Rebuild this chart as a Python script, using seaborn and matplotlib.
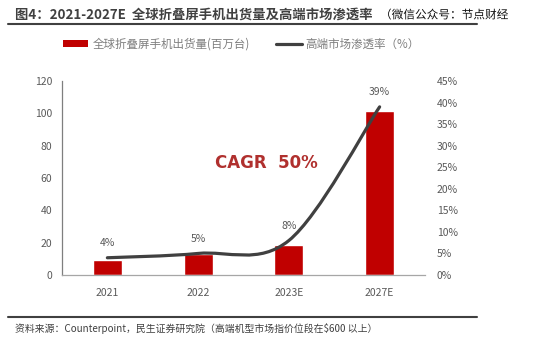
import numpy as np
import pandas as pd
import matplotlib
matplotlib.use("Agg")
import matplotlib.pyplot as plt
import seaborn as sns
from matplotlib.path import Path
from matplotlib.patches import PathPatch, Patch
from matplotlib.lines import Line2D
import matplotlib.patheffects as pe

# ---- data ----
years = ["2021", "2022", "2023E", "2027E"]
shipments = [9.3, 13.0, 18.7, 101.5]          # 百万台
penetration = [4, 5, 8, 39]                    # %
rate_labels = ["4%", "5%", "8%", "39%"]
left_ticks = [0, 20, 40, 60, 80, 100, 120]
right_ticks = [0, 5, 10, 15, 20, 25, 30, 35, 40, 45]

title = "图4：2021-2027E  全球折叠屏手机出货量及高端市场渗透率"
watermark = "（微信公众号：节点财经"
legend_bar = "全球折叠屏手机出货量(百万台)"
legend_line = "高端市场渗透率（%）"
source = "资料来源：Counterpoint，民生证券研究院（高端机型市场指价位段在\\$600 以上）"
cagr = "CAGR  50%"

sns.set_theme(style="white")
plt.rcParams["font.family"] = ["Noto Sans CJK SC", "DejaVu Sans"]

W, H = 537, 340
fig = plt.figure(figsize=(W / 100, H / 100), dpi=100)
ax = fig.add_axes([62 / W, 1 - 275 / H, (425 - 62) / W, (275 - 81) / H])

df = pd.DataFrame({"year": years, "ship": shipments})
sns.barplot(data=df, x="year", y="ship", ax=ax, color="#C00000",
            saturation=1, width=0.32)
ax.set_xlim(-0.5, 3.5)
ax.set_ylim(0, 120)
ax.set_yticks(left_ticks)
ax.set_xlabel("")
ax.set_ylabel("")
ax.tick_params(axis="y", length=0, pad=7, labelsize=7.5, labelcolor="#595959")
ax.tick_params(axis="x", length=0, pad=9, labelsize=7.5, labelcolor="#595959")
for s in ["top", "right"]:
    ax.spines[s].set_visible(False)
ax.spines["left"].set_color("#7f7f7f")
ax.spines["left"].set_linewidth(0.9)
ax.spines["bottom"].set_color("#a6a6a6")
ax.spines["bottom"].set_linewidth(0.9)

ax2 = ax.twinx()
ax2.set_ylim(0, 45)
ax2.set_yticks(right_ticks)
ax2.set_yticklabels([f"{t}%" for t in right_ticks])
ax2.tick_params(axis="y", length=0, pad=8.5, labelsize=7.5, labelcolor="#595959")
for s in ["top", "right", "left", "bottom"]:
    ax2.spines[s].set_visible(False)

# smoothed line (Excel-style Catmull-Rom bezier)
xs = np.arange(len(penetration), dtype=float)
ys = np.array(penetration, dtype=float)
pts = np.column_stack([xs, ys])
verts = [tuple(pts[0])]
codes = [Path.MOVETO]
n = len(pts)
for i in range(n - 1):
    p0 = pts[i - 1] if i > 0 else pts[i]
    p1 = pts[i]
    p2 = pts[i + 1]
    p3 = pts[i + 2] if i + 2 < n else pts[i + 1]
    c1 = p1 + (p2 - p0) / 6
    c2 = p2 - (p3 - p1) / 6
    verts += [tuple(c1), tuple(c2), tuple(p2)]
    codes += [Path.CURVE4] * 3
ax2.add_patch(PathPatch(Path(verts, codes), facecolor="none",
                        edgecolor="#404040", lw=2.3, capstyle="round"))

for x, y, lab in zip(xs, ys, rate_labels):
    ax2.annotate(lab, (x, y), xytext=(0, 10.5), textcoords="offset points",
                 ha="center", va="center", fontsize=7.5, color="#595959")

ax.text(1.75, 69, cagr, ha="center", va="center", fontsize=12,
        fontweight="bold", color="#B0302E", family="DejaVu Sans")

# legend
handles = [Patch(facecolor="#C00000", edgecolor="none"),
           Line2D([0], [0], color="#404040", lw=2.3)]
leg = fig.legend(handles, [legend_bar, legend_line], loc="center left",
                 bbox_to_anchor=(63 / W, 1 - 44 / H), ncol=2, frameon=False,
                 fontsize=8.3, borderpad=0, borderaxespad=0, handlelength=2.2,
                 handleheight=0.6, handletextpad=0.35, columnspacing=2.3)
for t in leg.get_texts():
    t.set_color("#7f7f7f")

# title & watermark
fig.text(15 / W, 1 - 15 / H, title, ha="left", va="center", fontsize=9.6,
         fontweight="bold", color="#404040")
fig.text(380 / W, 1 - 15 / H, watermark, ha="left", va="center", fontsize=8.4,
         color="#111111",
         path_effects=[pe.withStroke(linewidth=1.5, foreground="white")])
fig.add_artist(Line2D([8 / W, 477 / W], [1 - 24 / H, 1 - 24 / H],
                      transform=fig.transFigure, color="#404040", lw=1.5))
fig.add_artist(Line2D([8 / W, 477 / W], [1 - 317 / H, 1 - 317 / H],
                      transform=fig.transFigure, color="#404040", lw=1.5))
fig.text(15 / W, 1 - 328 / H, source, ha="left", va="center", fontsize=7.1,
         color="#404040")

fig.savefig("out.png", dpi=100)
